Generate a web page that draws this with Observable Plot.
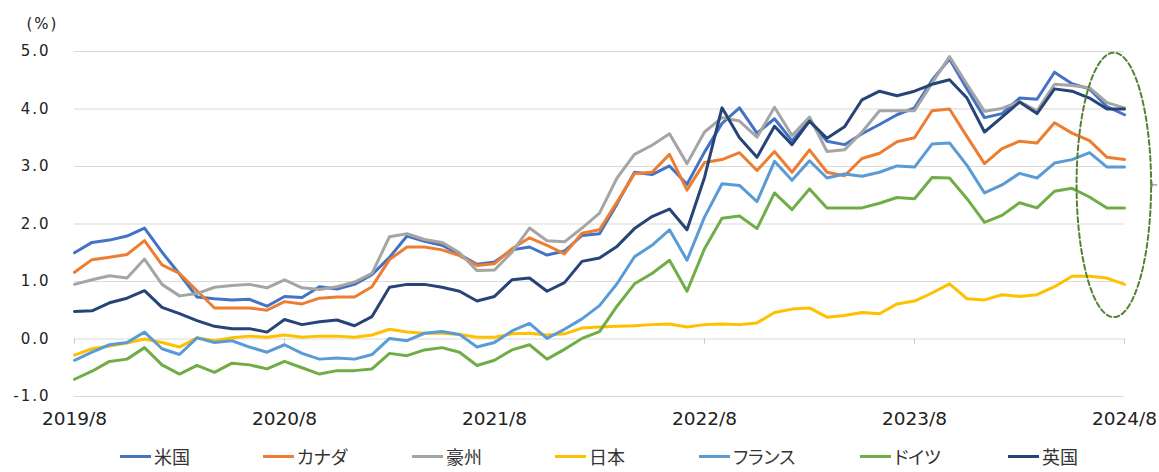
<!DOCTYPE html>
<html>
<head>
<meta charset="utf-8">
<script src="https://cdn.jsdelivr.net/npm/d3@7"></script>
<script src="https://cdn.jsdelivr.net/npm/@observablehq/plot@0.6"></script>
<style>
  html, body { margin: 0; padding: 0; background: #fff; }
  #wrap { position: relative; width: 1159px; height: 472px; }
  #legend { position: absolute; left: 0; top: 440px; width: 1159px; height: 32px; }
  .item { position: absolute; top: 0; height: 32px; display: flex; align-items: center; }
  .swatch { width: 31px; height: 3px; margin-right: 3px; }
  .lab { font-family: "Noto Sans CJK JP", sans-serif; font-size: 18px; color: #333; font-feature-settings: "palt"; line-height: 1; }
</style>
</head>
<body>
<div id="wrap"><div id="chart"></div><div id="legend"></div></div>
<script>
// ---- data ----
const seriesNames = ["米国", "カナダ", "豪州", "日本", "フランス", "ドイツ", "英国"];
const seriesColors = ["#4472C4", "#ED7D31", "#A5A5A5", "#FFC000", "#5B9BD5", "#70AD47", "#264478"];
const tickLabels = ["2019/8", "2020/8", "2021/8", "2022/8", "2023/8", "2024/8"];
const tickMonthIndex = [0, 12, 24, 36, 48, 60];
const yTicks = [-1, 0, 1, 2, 3, 4, 5];

const us = [1.50,1.68,1.72,1.79,1.93,1.51,1.13,0.73,0.70,0.68,0.69,0.57,0.74,
  0.72,0.91,0.87,0.95,1.12,1.42,1.79,1.70,1.63,1.47,1.30,1.34,1.55,1.60,1.46,1.53,
  1.80,1.83,2.35,2.90,2.86,3.01,2.69,3.25,3.75,4.02,3.58,3.83,3.45,3.80,3.44,3.38,
  3.57,3.73,3.90,4.02,4.50,4.87,4.35,3.85,3.92,4.19,4.17,4.64,4.44,4.35,4.04,3.90];
const ca = [1.16,1.38,1.42,1.47,1.71,1.29,1.14,0.84,0.54,0.54,0.54,0.50,0.65,
  0.61,0.71,0.73,0.73,0.91,1.38,1.60,1.60,1.55,1.45,1.28,1.31,1.57,1.76,1.63,1.48,
  1.84,1.90,2.38,2.88,2.90,3.21,2.59,3.07,3.12,3.24,2.93,3.26,2.90,3.29,2.90,2.84,
  3.14,3.23,3.43,3.50,3.97,4.00,3.52,3.05,3.31,3.44,3.41,3.76,3.58,3.45,3.16,3.12];
const au = [0.95,1.03,1.10,1.06,1.39,0.95,0.75,0.79,0.90,0.93,0.95,0.89,1.03,
  0.89,0.86,0.91,0.99,1.14,1.78,1.83,1.73,1.68,1.50,1.19,1.20,1.51,1.93,1.71,1.69,
  1.93,2.19,2.80,3.21,3.37,3.57,3.05,3.60,3.85,3.79,3.51,4.03,3.54,3.86,3.26,3.29,
  3.60,3.97,3.97,3.97,4.45,4.91,4.43,3.96,4.01,4.13,3.97,4.43,4.41,4.37,4.11,4.02];
const jp = [-0.28,-0.17,-0.12,-0.07,0.00,-0.06,-0.14,0.02,-0.03,0.02,0.05,0.03,0.07,
  0.03,0.05,0.05,0.03,0.07,0.17,0.12,0.10,0.10,0.08,0.03,0.03,0.09,0.10,0.07,0.09,
  0.19,0.21,0.22,0.23,0.25,0.26,0.21,0.25,0.26,0.25,0.28,0.46,0.52,0.54,0.38,0.41,
  0.46,0.44,0.61,0.66,0.80,0.96,0.70,0.68,0.77,0.74,0.77,0.91,1.09,1.09,1.06,0.95];
const fr = [-0.37,-0.23,-0.10,-0.06,0.12,-0.17,-0.27,0.02,-0.06,-0.03,-0.14,-0.23,-0.10,
  -0.25,-0.35,-0.33,-0.35,-0.27,0.01,-0.03,0.10,0.13,0.08,-0.14,-0.06,0.14,0.27,0.01,0.17,
  0.35,0.58,0.96,1.43,1.63,1.90,1.37,2.12,2.70,2.67,2.39,3.09,2.76,3.10,2.80,2.87,
  2.83,2.90,3.01,2.99,3.39,3.41,3.02,2.54,2.68,2.88,2.80,3.06,3.12,3.24,2.99,2.99];
const de = [-0.70,-0.56,-0.39,-0.35,-0.15,-0.45,-0.61,-0.46,-0.58,-0.42,-0.45,-0.52,-0.39,
  -0.50,-0.61,-0.55,-0.55,-0.52,-0.25,-0.29,-0.19,-0.15,-0.23,-0.46,-0.37,-0.19,-0.10,-0.35,-0.18,
  0.01,0.13,0.57,0.96,1.14,1.37,0.83,1.57,2.10,2.14,1.92,2.54,2.25,2.61,2.28,2.28,
  2.28,2.36,2.46,2.44,2.81,2.80,2.44,2.03,2.15,2.37,2.28,2.57,2.62,2.47,2.28,2.28];
const uk = [0.48,0.49,0.63,0.71,0.84,0.55,0.44,0.32,0.22,0.18,0.18,0.12,0.34,
  0.25,0.30,0.33,0.23,0.39,0.90,0.95,0.95,0.90,0.83,0.66,0.74,1.03,1.06,0.83,0.98,
  1.35,1.41,1.61,1.92,2.13,2.26,1.90,2.81,4.02,3.50,3.16,3.70,3.38,3.79,3.49,3.69,
  4.16,4.31,4.23,4.31,4.43,4.51,4.19,3.60,3.86,4.12,3.92,4.35,4.31,4.19,4.00,4.00];

// highlight ellipse annotation (center month index, center value, radii)
const highlight = { cx: 59.39, cy: 2.68, rx: 2.13, ry: 2.30 };

// ---- build table ----
const seriesValues = [us, ca, au, jp, fr, de, uk];
const rows = [];
seriesValues.forEach((vals, k) => vals.forEach((v, i) => rows.push({ s: seriesNames[k], i, v })));

const ellipsePts = d3.range(0, 121).map(t => {
  const a = (t / 120) * 2 * Math.PI;
  return { x: highlight.cx + highlight.rx * Math.cos(a), y: highlight.cy + highlight.ry * Math.sin(a) };
});
// small handle mark at the ellipse's right edge
const handleX = highlight.cx + highlight.rx + 0.05;

const chart = Plot.plot({
  width: 1159,
  height: 440,
  marginLeft: 74,
  marginRight: 35,
  marginTop: 51,
  marginBottom: 44,
  style: { fontFamily: "DejaVu Sans, Verdana, sans-serif", color: "#222", background: "#fff" },
  x: { domain: [0, 60], axis: null },
  y: { domain: [-1, 5], axis: null },
  color: { domain: seriesNames, range: seriesColors },
  marks: [
    Plot.gridY(yTicks, { stroke: "#d9d9d9", strokeOpacity: 1, strokeWidth: 1 }),
    Plot.ruleX(tickMonthIndex, { x: d => d, y1: 0, y2: -0.09, stroke: "#c8c8c8", strokeWidth: 1 }),
    Plot.axisY({ ticks: yTicks, tickSize: 0, tickPadding: 24, tickFormat: d => d.toFixed(1),
      fontSize: 15 }),
    Plot.axisX({ ticks: tickMonthIndex, tickSize: 0, tickPadding: 15,
      tickFormat: d => tickLabels[tickMonthIndex.indexOf(d)], fontSize: 18.5 }),
    Plot.text(["(%)"], { frameAnchor: "top-left", dx: -32, dy: -27, fontSize: 15, text: d => d,
      textAnchor: "middle", lineAnchor: "middle" }),
    Plot.line(rows, { x: "i", y: "v", z: "s", stroke: "s", strokeWidth: 3,
      strokeLinejoin: "round", strokeLinecap: "round", curve: "linear" }),
    Plot.line(ellipsePts, { x: "x", y: "y", stroke: "#548235", strokeWidth: 2, strokeDasharray: "5,3" }),
    Plot.ruleY([highlight.cy], { x1: handleX, x2: handleX + 0.33, stroke: "#777", strokeWidth: 1 }),
    Plot.ruleX([handleX], { y1: highlight.cy - 0.05, y2: highlight.cy + 0.05, stroke: "#777", strokeWidth: 1 })
  ]
});
chart.querySelectorAll("g[aria-label='y-axis tick label'] text, g[aria-label='text'] text").forEach(t => t.style.letterSpacing = "2px");
document.getElementById("chart").appendChild(chart);

// ---- legend ----
const legendLeft = [120, 263, 412, 555, 699, 860, 1008];
const legend = document.getElementById("legend");
seriesNames.forEach((name, k) => {
  const item = document.createElement("div");
  item.className = "item";
  item.style.left = legendLeft[k] + "px";
  const sw = document.createElement("div");
  sw.className = "swatch";
  sw.style.background = seriesColors[k];
  const lab = document.createElement("span");
  lab.className = "lab";
  lab.textContent = name;
  item.appendChild(sw); item.appendChild(lab);
  legend.appendChild(item);
});
</script>
</body>
</html>
